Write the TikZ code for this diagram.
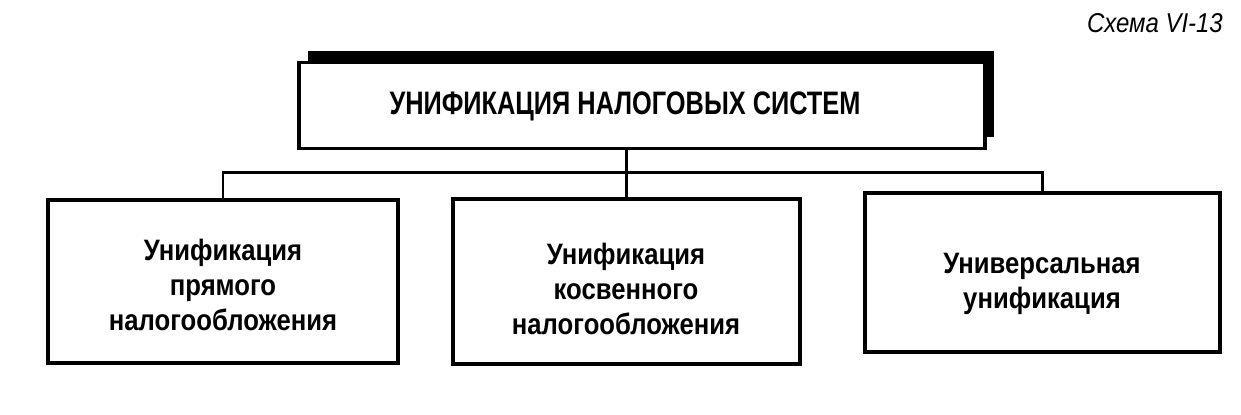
\documentclass[tikz,border=0pt]{standalone}
\usepackage{fontspec}
\setmainfont{Liberation Sans}
\newfontfamily\titlefont{Liberation Sans}[FakeStretch=0.78]
\newfontfamily\boxfont{Liberation Sans}[FakeStretch=0.87]
\newfontfamily\schemefont{Liberation Sans}[FakeStretch=0.88]
\usepackage{tikz}
\usetikzlibrary{positioning,calc,shadows}
\tikzset{
  unitbox/.style={draw, line width=2.2pt, fill=white, inner sep=0pt},
  headbox/.style={unitbox, minimum width=13.72cm, minimum height=1.72cm,
                  drop shadow={shadow xshift=0.18cm, shadow yshift=0.24cm,
                               fill=black, opacity=1}},
  leafbox/.style={unitbox, minimum height=3.26cm},
  headtext/.style={font=\titlefont\bfseries\fontsize{18.5}{22}\selectfont},
  leaftext/.style={align=center, font=\boxfont\bfseries\fontsize{16.8}{19.8}\selectfont},
  tagtext/.style={font=\schemefont\itshape\fontsize{15.5}{18}\selectfont, anchor=east},
  link/.style={line width=1.7pt}
}
\begin{document}
\begin{tikzpicture}[x=0.02cm, y=-0.02cm]
\useasboundingbox (0,0) rectangle (1241,414);
\node[tagtext] (tag) at (1229,23) {Схема VI-13};
% head
\node[headbox] (head) at (642,105.5) {};
\node[headtext] (headt) at (625,106) {УНИФИКАЦИЯ НАЛОГОВЫХ СИСТЕМ};
% three kinds
\node[leafbox, minimum width=7.0cm] (direct) at (223,281.5) {};
\node[leafbox, minimum width=6.94cm, minimum height=3.3cm] (indirect) at (626.5,281.5) {};
\node[leafbox, minimum width=7.1cm, minimum height=3.18cm] (univ) at (1042.5,272.5) {};
\node[leaftext] (directt) at (223,285) {Унификация\\прямого\\налогообложения};
\node[leaftext] (indirectt) at (626,289) {Унификация\\косвенного\\налогообложения};
\node[leaftext] (univt) at (1042,284) {Универсальная\\унификация};
% links
\coordinate (bus) at (626,172);
\draw[link] (head.south -| indirect.north) -- (indirect.north);
\draw[link] (direct.north) -- (direct.north |- bus) -- (univ.north |- bus) -- (univ.north);
\end{tikzpicture}
\end{document}
